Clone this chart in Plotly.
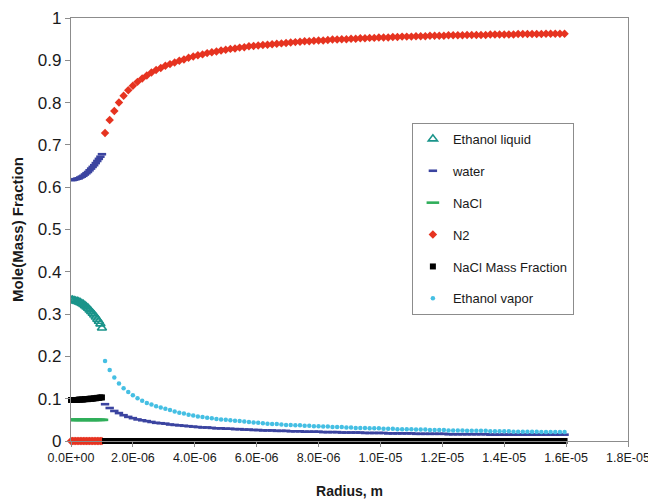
import plotly.graph_objects as go

# Radius grids (micrometres)
r_drop_um = [0.00, 0.05, 0.10, 0.15, 0.20, 0.25, 0.30, 0.35, 0.40, 0.45, 0.50,
             0.55, 0.60, 0.65, 0.70, 0.75, 0.80, 0.85, 0.90, 0.95, 1.00]
r_gas_um = [1.10, 1.25, 1.40, 1.55, 1.70, 1.85, 2.00, 2.15, 2.30, 2.45,
            2.60, 2.75, 2.90, 3.05, 3.20, 3.35, 3.50, 3.65, 3.80, 3.95,
            4.10, 4.25, 4.40, 4.55, 4.70, 4.85, 5.00, 5.15, 5.30, 5.45,
            5.60, 5.75, 5.90, 6.05, 6.20, 6.35, 6.50, 6.65, 6.80, 6.95,
            7.10, 7.25, 7.40, 7.55, 7.70, 7.85, 8.00, 8.15, 8.30, 8.45,
            8.60, 8.75, 8.90, 9.05, 9.20, 9.35, 9.50, 9.65, 9.80, 9.95,
            10.10, 10.25, 10.40, 10.55, 10.70, 10.85, 11.00, 11.15, 11.30, 11.45,
            11.60, 11.75, 11.90, 12.05, 12.20, 12.35, 12.50, 12.65, 12.80, 12.95,
            13.10, 13.25, 13.40, 13.55, 13.70, 13.85, 14.00, 14.15, 14.30, 14.45,
            14.60, 14.75, 14.90, 15.05, 15.20, 15.35, 15.50, 15.65, 15.80, 15.95]

# Liquid (droplet) region values
ethanol_liquid = [0.333, 0.333, 0.332, 0.331, 0.330, 0.329, 0.327, 0.325, 0.323, 0.320, 0.317,
                  0.314, 0.310, 0.306, 0.302, 0.298, 0.293, 0.288, 0.283, 0.277, 0.267]
water_drop = [0.617, 0.617, 0.618, 0.619, 0.620, 0.621, 0.623, 0.625, 0.627, 0.630, 0.633,
              0.636, 0.640, 0.644, 0.648, 0.652, 0.657, 0.662, 0.667, 0.672, 0.678]
nacl_drop = [0.050, 0.050, 0.050, 0.050, 0.050, 0.050, 0.050, 0.050, 0.050, 0.050, 0.050,
             0.050, 0.050, 0.050, 0.050, 0.050, 0.050, 0.050, 0.050, 0.050, 0.050]
n2_drop = [0.0, 0.0, 0.0, 0.0, 0.0, 0.0, 0.0, 0.0, 0.0, 0.0, 0.0,
           0.0, 0.0, 0.0, 0.0, 0.0, 0.0, 0.0, 0.0, 0.0, 0.0]
nacl_mass_drop = [0.097, 0.097, 0.097, 0.097, 0.097, 0.098, 0.098, 0.098, 0.098, 0.099, 0.099,
                  0.099, 0.100, 0.100, 0.100, 0.101, 0.101, 0.102, 0.102, 0.103, 0.103]

# Gas region values
water_gas = [0.087, 0.078, 0.071, 0.066, 0.061, 0.057, 0.054, 0.051, 0.049, 0.047,
             0.045, 0.043, 0.042, 0.041, 0.039, 0.038, 0.037, 0.036, 0.035, 0.034,
             0.033, 0.032, 0.032, 0.031, 0.030, 0.030, 0.029, 0.029, 0.028, 0.028,
             0.027, 0.027, 0.026, 0.026, 0.025, 0.025, 0.025, 0.024, 0.024, 0.024,
             0.023, 0.023, 0.023, 0.022, 0.022, 0.022, 0.022, 0.021, 0.021, 0.021,
             0.021, 0.020, 0.020, 0.020, 0.020, 0.020, 0.019, 0.019, 0.019, 0.019,
             0.019, 0.018, 0.018, 0.018, 0.018, 0.018, 0.018, 0.017, 0.017, 0.017,
             0.017, 0.017, 0.017, 0.017, 0.016, 0.016, 0.016, 0.016, 0.016, 0.016,
             0.016, 0.016, 0.016, 0.015, 0.015, 0.015, 0.015, 0.015, 0.015, 0.015,
             0.015, 0.015, 0.015, 0.015, 0.015, 0.015, 0.015, 0.015, 0.015, 0.015]
n2_gas = [0.728, 0.759, 0.780, 0.800, 0.816, 0.829, 0.840, 0.849, 0.857, 0.864,
          0.871, 0.877, 0.882, 0.887, 0.891, 0.895, 0.899, 0.902, 0.906, 0.909,
          0.912, 0.914, 0.917, 0.919, 0.921, 0.923, 0.925, 0.927, 0.928, 0.930,
          0.931, 0.933, 0.934, 0.935, 0.936, 0.937, 0.938, 0.939, 0.940, 0.941,
          0.942, 0.943, 0.944, 0.945, 0.945, 0.946, 0.947, 0.947, 0.948, 0.949,
          0.949, 0.950, 0.950, 0.951, 0.951, 0.952, 0.952, 0.953, 0.953, 0.954,
          0.954, 0.954, 0.955, 0.955, 0.956, 0.956, 0.956, 0.957, 0.957, 0.957,
          0.958, 0.958, 0.958, 0.958, 0.959, 0.959, 0.959, 0.959, 0.960, 0.960,
          0.960, 0.960, 0.960, 0.961, 0.961, 0.961, 0.961, 0.961, 0.961, 0.962,
          0.962, 0.962, 0.962, 0.962, 0.962, 0.963, 0.963, 0.963, 0.963, 0.963]
nacl_mass_gas = [
    0.0, 0.0, 0.0, 0.0, 0.0, 0.0, 0.0, 0.0, 0.0, 0.0,
    0.0, 0.0, 0.0, 0.0, 0.0, 0.0, 0.0, 0.0, 0.0, 0.0,
    0.0, 0.0, 0.0, 0.0, 0.0, 0.0, 0.0, 0.0, 0.0, 0.0,
    0.0, 0.0, 0.0, 0.0, 0.0, 0.0, 0.0, 0.0, 0.0, 0.0,
    0.0, 0.0, 0.0, 0.0, 0.0, 0.0, 0.0, 0.0, 0.0, 0.0,
    0.0, 0.0, 0.0, 0.0, 0.0, 0.0, 0.0, 0.0, 0.0, 0.0,
    0.0, 0.0, 0.0, 0.0, 0.0, 0.0, 0.0, 0.0, 0.0, 0.0,
    0.0, 0.0, 0.0, 0.0, 0.0, 0.0, 0.0, 0.0, 0.0, 0.0,
    0.0, 0.0, 0.0, 0.0, 0.0, 0.0, 0.0, 0.0, 0.0, 0.0,
    0.0, 0.0, 0.0, 0.0, 0.0, 0.0, 0.0, 0.0, 0.0, 0.0]
ethanol_vapor = [0.189, 0.168, 0.150, 0.136, 0.125, 0.116, 0.108, 0.101, 0.095, 0.090,
                 0.086, 0.082, 0.079, 0.076, 0.073, 0.070, 0.067, 0.065, 0.062, 0.060,
                 0.058, 0.057, 0.055, 0.054, 0.052, 0.051, 0.050, 0.049, 0.048, 0.047,
                 0.046, 0.045, 0.044, 0.043, 0.042, 0.041, 0.040, 0.040, 0.039, 0.038,
                 0.038, 0.037, 0.037, 0.036, 0.036, 0.035, 0.035, 0.034, 0.034, 0.033,
                 0.033, 0.033, 0.032, 0.032, 0.031, 0.031, 0.031, 0.030, 0.030, 0.030,
                 0.029, 0.029, 0.029, 0.028, 0.028, 0.028, 0.028, 0.027, 0.027, 0.027,
                 0.026, 0.026, 0.026, 0.026, 0.025, 0.025, 0.025, 0.025, 0.024, 0.024,
                 0.024, 0.024, 0.024, 0.023, 0.023, 0.023, 0.023, 0.023, 0.022, 0.022,
                 0.022, 0.022, 0.022, 0.022, 0.021, 0.021, 0.021, 0.021, 0.021, 0.021]

x_tick_vals = [0, 2e-6, 4e-6, 6e-6, 8e-6, 1e-5, 1.2e-5, 1.4e-5, 1.6e-5, 1.8e-5]
x_tick_text = ["0.0E+00", "2.0E-06", "4.0E-06", "6.0E-06", "8.0E-06",
               "1.0E-05", "1.2E-05", "1.4E-05", "1.6E-05", "1.8E-05"]
y_tick_vals = [0, 0.1, 0.2, 0.3, 0.4, 0.5, 0.6, 0.7, 0.8, 0.9, 1]

r_drop = [v * 1e-6 for v in r_drop_um]
r_gas = [v * 1e-6 for v in r_gas_um]

FONT = "Liberation Sans, Arial, sans-serif"
fig = go.Figure()

fig.add_trace(go.Scatter(
    x=r_drop, y=ethanol_liquid, mode="markers", name="Ethanol liquid", legendgroup="a",
    marker=dict(symbol="triangle-up-open", size=8, color="#1a948a",
                line=dict(width=1.6, color="#1a948a"))))
fig.add_trace(go.Scatter(
    x=r_drop + r_gas, y=water_drop + water_gas, mode="markers", name="water", legendgroup="b",
    marker=dict(symbol="line-ew", size=6, color="#3b44a0",
                line=dict(width=2.6, color="#3b44a0"))))
fig.add_trace(go.Scatter(
    x=r_drop, y=nacl_drop, mode="markers", name="NaCl", legendgroup="c",
    marker=dict(symbol="line-ew", size=9, color="#2fae5a",
                line=dict(width=2.6, color="#2fae5a"))))
fig.add_trace(go.Scatter(
    x=r_drop + r_gas, y=n2_drop + n2_gas, mode="markers", name="N2", legendgroup="d",
    cliponaxis=False,
    marker=dict(symbol="diamond", size=6.5, color="#e63320", line=dict(width=0))))
fig.add_trace(go.Scatter(
    x=r_drop + r_gas, y=nacl_mass_drop + nacl_mass_gas, mode="markers",
    name="NaCl Mass Fraction", legendgroup="e", cliponaxis=False,
    marker=dict(symbol="square", size=6, color="#000000", line=dict(width=0))))
fig.add_trace(go.Scatter(
    x=r_gas, y=ethanol_vapor, mode="markers", name="Ethanol vapor", legendgroup="f",
    marker=dict(symbol="circle", size=4.5, color="#45bfe3", line=dict(width=0))))

axis_common = dict(showline=True, linecolor="#8c8c8c", linewidth=1.2, mirror=True,
                   ticks="outside", ticklen=5, tickcolor="#8c8c8c", showgrid=False,
                   zeroline=False)

# The page body adds an 8 px margin, so the figure is 8 px smaller each way.
fig.update_layout(
    width=648, height=494,
    margin=dict(l=63, r=28, t=10, b=61),
    paper_bgcolor="white", plot_bgcolor="white",
    font=dict(family=FONT, color="#1a1a1a"),
    xaxis=dict(range=[0, 1.8e-5], tickvals=x_tick_vals, ticktext=x_tick_text,
               tickfont=dict(size=12.5, family=FONT, color="#1a1a1a"),
               title=dict(text="<b>Radius, m</b>", font=dict(size=14, family=FONT),
                          standoff=22),
               automargin=False, **axis_common),
    yaxis=dict(range=[0, 1], tickvals=y_tick_vals,
               tickfont=dict(size=17, family=FONT, color="#1a1a1a"),
               title=dict(text="<b>Mole(Mass) Fraction</b>", font=dict(size=15, family=FONT),
                          standoff=10),
               automargin=False, **axis_common),
    showlegend=True,
    legend=dict(x=0.612, y=0.752, xanchor="left", yanchor="top",
                bgcolor="white", bordercolor="#8c8c8c", borderwidth=1,
                font=dict(size=13, family=FONT, color="#1a1a1a"),
                tracegroupgap=12, itemwidth=30),
)

fig.write_html("out.html")
